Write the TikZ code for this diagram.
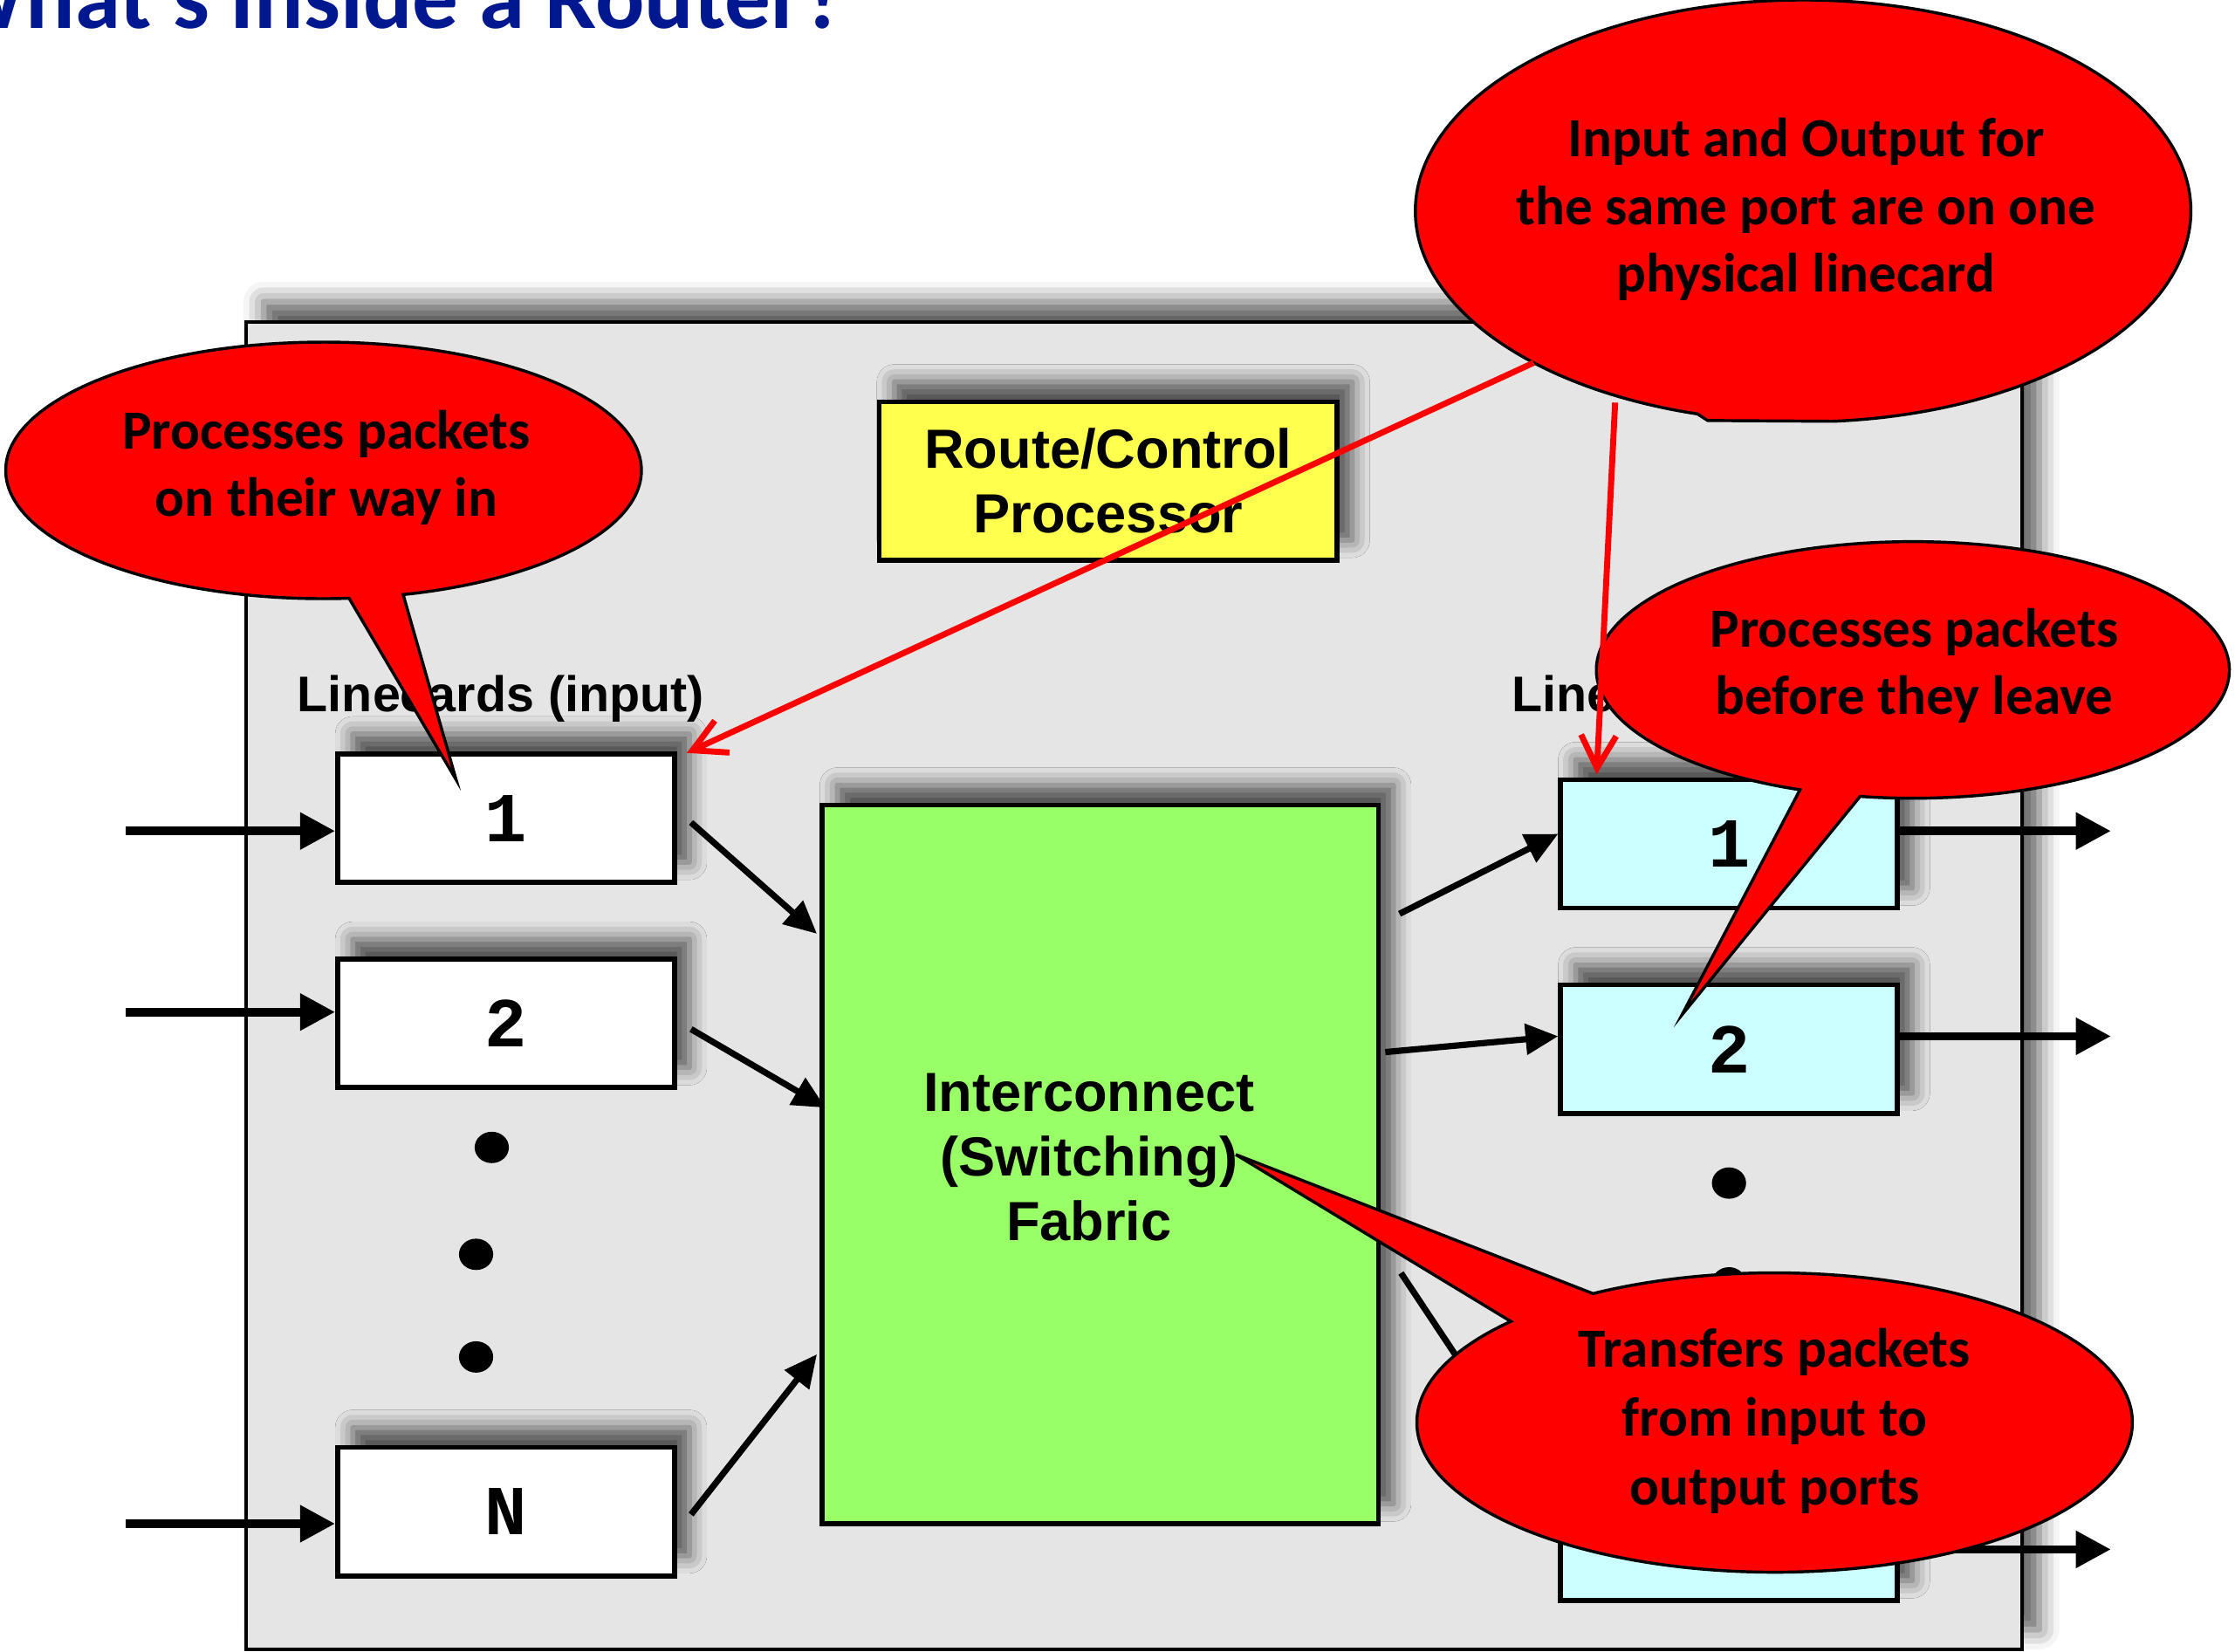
\documentclass[tikz,border=0pt]{standalone}
\usepackage{fontspec}
\setmainfont{Liberation Sans}
\newfontfamily\calib{Carlito}
\newfontfamily\courb{Liberation Mono}
\usetikzlibrary{arrows.meta,shadows.blur,calc}
\definecolor{bggray}{RGB}{229,229,229}
\definecolor{rcyellow}{RGB}{255,255,77}
\definecolor{fabgreen}{RGB}{153,255,102}
\definecolor{outcyan}{RGB}{204,255,255}
\definecolor{calred}{RGB}{255,0,0}
\definecolor{titleblue}{RGB}{0,24,143}
\begin{document}
\begin{tikzpicture}[x=0.01cm,y=-0.01cm,
  shad/.style={blur shadow={shadow xshift=3pt,shadow yshift=4pt,shadow blur radius=3.5pt,shadow opacity=65}},
  bigshad/.style={blur shadow={shadow xshift=3.5pt,shadow yshift=4pt,shadow blur radius=4pt,shadow opacity=65}},
  cardin/.style={draw,line width=1pt,fill=white,minimum width=2.36cm,minimum height=0.9cm,inner sep=0pt,font=\courb\bfseries\fontsize{14}{16}\selectfont,shad},
  cardout/.style={cardin,fill=outcyan},
  arialb/.style={font=\bfseries\fontsize{11}{12.85}\selectfont,align=center,inner sep=0pt},
  lbl/.style={font=\bfseries\fontsize{10}{12}\selectfont,inner sep=0pt,anchor=base west},
  caltext/.style={font=\calib\bfseries\fontsize{11}{13.5}\selectfont,align=center,inner sep=0pt},
  callout/.style={fill=calred,draw=black,line width=0.6pt},
  inarr/.style={line width=1.7pt,-{Triangle[length=7pt,width=7pt]}},
  midarr/.style={line width=1.25pt,-{Triangle[length=6.5pt,width=6pt]}},
  redarr/.style={draw=calred,line width=1.2pt,-{Straight Barb[length=6.5pt,width=7pt]}},
  dot/.style={fill=black}
]
\useasboundingbox (0,0) rectangle (1568,1159);
\clip (0,0) rectangle (1568,1159);
% title (cut off at the top)
\node[anchor=base east,inner sep=0pt,font=\calib\bfseries\fontsize{18.3}{22}\selectfont,text=titleblue] (title) at (594,20) {What's Inside a Router?};
% router chassis
\node[draw,line width=0.7pt,fill=bggray,minimum width=12.45cm,minimum height=9.31cm,inner sep=0pt,bigshad] (router) at (795.5,691.5) {};
% route processor
\node[draw,line width=1pt,fill=rcyellow,minimum width=3.21cm,minimum height=1.11cm,arialb,shad] (rcp) at (777.5,337.5) {Route/Control\\Processor};
% fabric
\node[draw,line width=1pt,fill=fabgreen,minimum width=3.9cm,minimum height=5.04cm,inner sep=0pt,shad] (fab) at (772,817) {};
\node[arialb] (fabtxt) at (764,812) {Interconnect\\(Switching)\\Fabric};
% input linecards
\node[cardin] (i1) at (355,574) {1};
\node[cardin] (i2) at (355,718) {2};
\node[cardin] (iN) at (355,1060.5) {N};
\node[lbl] (inlbl) at (208,499) {Linecards (input)};
% output linecards
\node[cardout] (o1) at (1213,592) {1};
\node[cardout] (o2) at (1213,736) {2};
\node[cardout] (oN) at (1213,1078) {N};
\node[lbl] (outlbl) at (1060,499) {Linecards (output)};
% dots
\fill[dot] (345,805) ellipse [x radius=12,y radius=11];
\fill[dot] (334,880) ellipse [x radius=12,y radius=11];
\fill[dot] (334,952) ellipse [x radius=12,y radius=11];
\fill[dot] (1213,830) ellipse [x radius=12,y radius=11];
\fill[dot] (1213,900) ellipse [x radius=12,y radius=11];
\fill[dot] (1213,968) ellipse [x radius=12,y radius=11];
% incoming arrows
\coordinate (s1) at (88,583);
\coordinate (s2) at (88,710);
\coordinate (sN) at (88,1069);
\draw[inarr] (s1) -- (s1 -| i1.west);
\draw[inarr] (s2) -- (s2 -| i2.west);
\draw[inarr] (sN) -- (sN -| iN.west);
% to fabric
\draw[midarr] ($(i1.east)+(10,3)$) -- ($(fab.north west)+(-2,92)$);
\draw[midarr] ($(i2.east)+(10,4)$) -- ($(fab.north west)+(4,214)$);
\draw[midarr] ($(iN.east)+(10,2)$) -- ($(fab.north west)+(-2,387)$);
% from fabric
\draw[midarr] ($(fab.north east)+(13,78)$) -- ($(o1.west)+(0,-7)$);
\draw[midarr] ($(fab.north east)+(3,175)$) -- ($(o2.west)+(0,-9)$);
\draw[midarr] ($(fab.north east)+(14,330)$) -- ($(oN.west)+(0,-19)$);
% outgoing arrows
\coordinate (e1) at (1481,583);
\coordinate (e2) at (1481,727);
\coordinate (eN) at (1481,1087);
\draw[inarr] (e1 -| o1.east) -- (e1);
\draw[inarr] (e2 -| o2.east) -- (e2);
\draw[inarr] (eN -| oN.east) -- (eN);
% callout 1
\coordinate (c1) at (227,330);
\coordinate (t1) at (320,547);
\filldraw[callout] ($(c1)+(75.5:223 and 90)$) -- (t1) -- ($(c1)+(85.4:223 and 90)$) arc[start angle=85.4,end angle=435.5,x radius=223,y radius=90] -- cycle;
\node[caltext] (k1) at (229,328) {Processes packets\\on their way in};
% callout 2
\coordinate (c2) at (1265,148);
\coordinate (t2) at (1198,295);
\filldraw[callout] ($(c2)+(85.6:272 and 148)$) -- (t2) -- ($(c2)+(105.8:272 and 148)$) arc[start angle=105.8,end angle=445.6,x radius=272,y radius=148] -- cycle;
\node[caltext] (k2) at (1267,147) {Input and Output for\\the same port are on one\\physical linecard};
% callout 3
\coordinate (c3) at (1342,470);
\coordinate (t3) at (1180,712);
\filldraw[callout] ($(c3)+(99.6:222 and 90)$) -- (t3) -- ($(c3)+(110.9:222 and 90)$) arc[start angle=110.9,end angle=459.6,x radius=222,y radius=90] -- cycle;
\node[caltext] (k3) at (1343,467) {Processes packets\\before they leave};
% red pointers from callout 2
\draw[redarr] ($(c2)+(134:272 and 148)$) -- ($(i1.north east)+(7,1)$);
\draw[redarr] ($(c2)+(119:272 and 148)+(0,5)$) -- ($(o1.north west)+(27,-2)$);
% callout 4
\coordinate (c4) at (1245,998);
\coordinate (t4) at (867,810);
\filldraw[callout] ($(c4)+(222.5:251 and 105)$) -- (t4) -- ($(c4)+(239.5:251 and 105)$) arc[start angle=239.5,end angle=582.5,x radius=251,y radius=105] -- cycle;
\node[caltext,font=\calib\bfseries\fontsize{11}{13.8}\selectfont] (k4) at (1245,997) {Transfers packets\\from input to\\output ports};
\end{tikzpicture}
\end{document}
